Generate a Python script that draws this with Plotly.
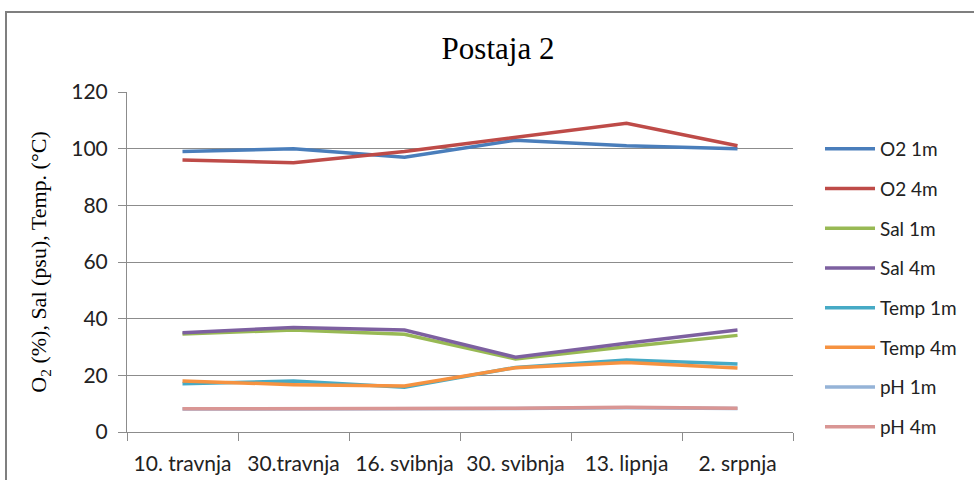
import plotly.graph_objects as go

# Sampling dates (Croatian month names)
dates = ["10. travnja", "30.travnja", "16. svibnja", "30. svibnja", "13. lipnja", "2. srpnja"]

# Measurements at station 2
o2_1m = [99, 100, 97, 103, 101, 100]
o2_4m = [96, 95, 99, 104, 109, 101]
sal_1m = [34.6, 36.0, 34.5, 25.8, 30.1, 34.1]
sal_4m = [35.0, 36.9, 36.0, 26.4, 31.3, 36.0]
temp_1m = [17.0, 18.0, 15.8, 22.8, 25.4, 24.0]
temp_4m = [18.0, 16.7, 16.2, 22.7, 24.5, 22.6]
ph_1m = [8.1, 8.1, 8.2, 8.3, 8.6, 8.3]
ph_4m = [8.2, 8.2, 8.3, 8.4, 8.7, 8.4]

series = [
    ("O2 1m", o2_1m, "#4A7EBB"),
    ("O2 4m", o2_4m, "#BE4B48"),
    ("Sal 1m", sal_1m, "#98B954"),
    ("Sal 4m", sal_4m, "#7D60A0"),
    ("Temp 1m", temp_1m, "#46AAC5"),
    ("Temp 4m", temp_4m, "#F69240"),
    ("pH 1m", ph_1m, "#95B3D7"),
    ("pH 4m", ph_4m, "#D99694"),
]

fig = go.Figure()
for name, vals, color in series:
    fig.add_trace(go.Scatter(
        x=dates, y=vals, name=name, mode="lines",
        line=dict(color=color, width=3.5),
        legendgroup=name,
    ))

label_font = dict(family="Lato, 'Open Sans', sans-serif", size=21, color="#222222")
grid = "#8C8C8C"

fig.update_layout(
    width=974, height=480,
    margin=dict(l=127, r=181, t=92, b=48),
    paper_bgcolor="white", plot_bgcolor="white",
    title=dict(text="Postaja 2", x=498 / 974, xref="container", xanchor="center",
               y=1 - 48 / 480, yanchor="middle",
               font=dict(family="'Liberation Serif', serif", size=31, color="#000000")),
    showlegend=True,
    legend=dict(x=(820 - 127) / 666, xanchor="left", y=1 - 38 / 340, yanchor="top",
                font=dict(family="Lato, 'Open Sans', sans-serif", size=19, color="#222222"),
                tracegroupgap=12, itemwidth=50, bgcolor="rgba(0,0,0,0)"),
    xaxis=dict(type="category", tickson="boundaries", ticks="outside", ticklen=8,
               tickcolor=grid, showline=True, linecolor=grid, linewidth=1,
               showgrid=False, tickfont=label_font, range=[-0.5, 5.5],
               ticklabelstandoff=13, automargin=False),
    yaxis=dict(range=[0, 120], dtick=20, ticks="outside", ticklen=8, tickcolor=grid,
               showline=True, linecolor=grid, linewidth=1,
               showgrid=True, gridcolor=grid, gridwidth=1, zeroline=False,
               tickfont=label_font, ticklabelstandoff=6, automargin=False,
               title=dict(text="O<sub>2</sub> (%), Sal (psu), Temp. (°C)", standoff=18,
                          font=dict(family="'Liberation Serif', serif", size=22, color="#000000"))),
)

# Outer chart frame
fig.add_shape(type="rect", xref="paper", yref="paper",
              x0=(6 - 127) / 666, x1=(1000 - 127) / 666,
              y0=(432 - 520) / 340, y1=(432 - 12) / 340,
              line=dict(color="#7F7F7F", width=2), fillcolor="rgba(0,0,0,0)", layer="below")

fig.write_html("out.html")
